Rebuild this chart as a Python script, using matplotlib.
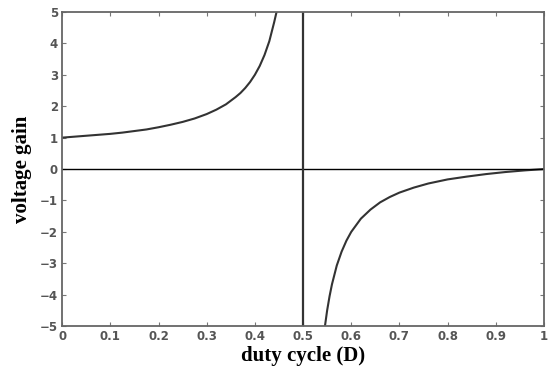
import numpy as np
import matplotlib
matplotlib.use('Agg')
from matplotlib import pyplot as plt

# voltage gain vs duty cycle, left branch (below D = 0.5)
d_low = [0.0, 0.025, 0.05, 0.075, 0.1, 0.125, 0.15, 0.175, 0.2, 0.225, 0.25, 0.275,
         0.3, 0.32, 0.34, 0.36, 0.37, 0.38, 0.39, 0.4, 0.41, 0.42, 0.43, 0.44, 0.445]
gain_low = [1.0, 1.03, 1.06, 1.09, 1.12, 1.16, 1.21, 1.26, 1.33, 1.41, 1.5, 1.61,
            1.75, 1.89, 2.06, 2.29, 2.42, 2.58, 2.77, 3.0, 3.28, 3.63, 4.07, 4.67, 5.0]

# right branch (above D = 0.5)
d_high = [0.545, 0.55, 0.555, 0.56, 0.57, 0.58, 0.59, 0.6, 0.62, 0.64, 0.66, 0.68,
          0.7, 0.73, 0.76, 0.8, 0.84, 0.88, 0.92, 0.96, 1.0]
gain_high = [-5.05, -4.5, -4.05, -3.67, -3.07, -2.63, -2.28, -2.0, -1.58, -1.29, -1.06, -0.89,
             -0.75, -0.59, -0.46, -0.33, -0.24, -0.16, -0.095, -0.043, 0.0]

x_ticks = [0, 0.1, 0.2, 0.3, 0.4, 0.5, 0.6, 0.7, 0.8, 0.9, 1]
x_labels = ['0', '0.1', '0.2', '0.3', '0.4', '0.5', '0.6', '0.7', '0.8', '0.9', '1']
y_ticks = [-5, -4, -3, -2, -1, 0, 1, 2, 3, 4, 5]

fig = plt.figure(figsize=(5.5, 3.74), dpi=100)
ax = fig.add_axes([0.113, 0.128, 0.876, 0.84])

ax.plot(d_low, gain_low, color='#333333', lw=1.5)
ax.plot(d_high, gain_high, color='#333333', lw=1.5)
ax.axhline(0, color='black', lw=1.0)
ax.axvline(0.5, color='#333333', lw=1.6)

ax.set_xlim(0, 1)
ax.set_ylim(-5, 5)
ax.set_xticks(x_ticks)
ax.set_xticklabels(x_labels)
ax.set_yticks(y_ticks)
ax.tick_params(direction='in', length=3, width=0.8, colors='#777777',
               labelcolor='#555555', labelsize=8.5, top=True, right=True, pad=3)
for lbl in ax.get_xticklabels() + ax.get_yticklabels():
    lbl.set_fontweight('bold')
for s in ax.spines.values():
    s.set_color('#666666')
    s.set_linewidth(1.3)

ax.set_xlabel('duty cycle (D)', fontfamily='Liberation Serif', fontweight='bold',
              fontsize=15, labelpad=2)
ax.set_ylabel('voltage gain', fontfamily='Liberation Serif', fontweight='bold',
              fontsize=15, labelpad=6)

fig.savefig('out.png', dpi=100)
